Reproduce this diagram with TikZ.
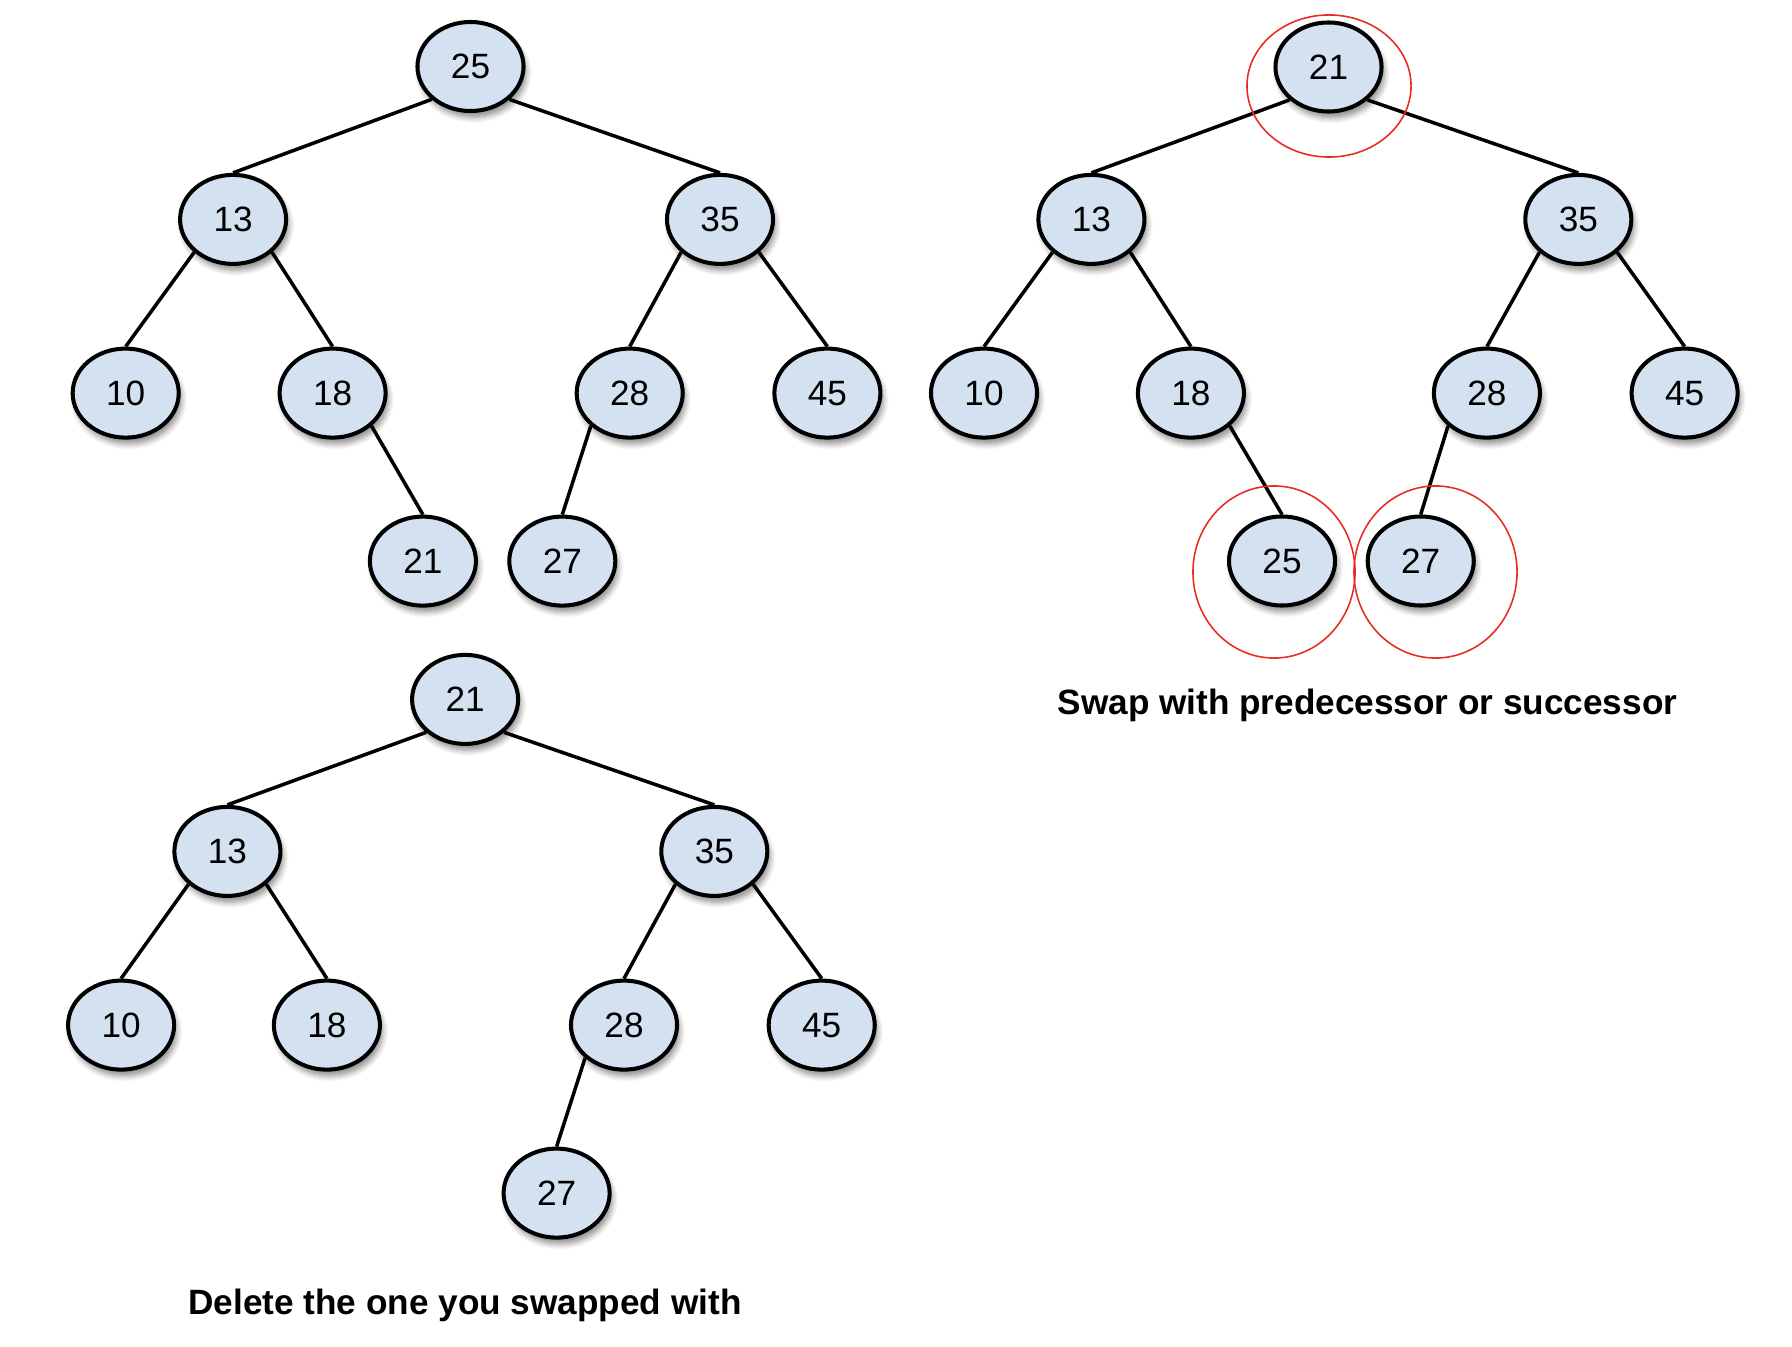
\documentclass[tikz,border=0pt]{standalone}
\usepackage{fontspec}
\setmainfont{Liberation Sans}
\usepackage{tikz}
\usetikzlibrary{shapes.geometric}
\usetikzlibrary{shadows}
\usetikzlibrary{shadows.blur}
\usetikzlibrary{positioning}
\definecolor{nodeblue}{RGB}{211,225,240}
\definecolor{ringred}{RGB}{232,44,36}
\tikzset{
    treenode/.style={ellipse, draw=black, line width=1.15pt, fill=nodeblue,
        minimum width=1.06cm, minimum height=0.89cm, inner sep=0pt,
        font=\fontsize{10}{12}\selectfont,
        blur shadow={shadow xshift=0.8pt, shadow yshift=-1.8pt,
            shadow blur radius=1.6pt, shadow blur steps=6, shadow opacity=45}},
    branch/.style={line width=1pt},
    ring/.style={ellipse, draw=ringred, line width=0.45pt, inner sep=0pt},
    caption/.style={anchor=base, font=\bfseries\fontsize{10}{12}\selectfont}
}
\begin{document}
\begin{tikzpicture}[x=0.01cm, y=-0.01cm]
        \useasboundingbox (0,0) rectangle (1792,1346);
        % before deletion
        \node[treenode] (a25) at (470.5,66.5) {25};
        \node[treenode] (a13) at (233.1,219.4) {13};
        \node[treenode] (a35) at (720.0,219.4) {35};
        \node[treenode] (a10) at (125.7,393.1) {10};
        \node[treenode] (a18) at (332.6,393.1) {18};
        \node[treenode] (a28) at (629.7,393.1) {28};
        \node[treenode] (a45) at (827.4,393.1) {45};
        \node[treenode] (a21) at (422.9,561.1) {21};
        \node[treenode] (a27) at (562.3,561.1) {27};
        % swapped
        \node[treenode] (b21) at (1328.5,67.0) {21};
        \node[treenode] (b13) at (1091.4,219.4) {13};
        \node[treenode] (b35) at (1578.3,219.4) {35};
        \node[treenode] (b10) at (984.0,393.1) {10};
        \node[treenode] (b18) at (1190.9,393.1) {18};
        \node[treenode] (b28) at (1486.9,393.1) {28};
        \node[treenode] (b45) at (1684.6,393.1) {45};
        \node[treenode] (b25) at (1282.0,561.0) {25};
        \node[treenode] (b27) at (1420.7,561.0) {27};
        % after deletion
        \node[treenode] (c21) at (465.1,699.4) {21};
        \node[treenode] (c13) at (227.4,851.4) {13};
        \node[treenode] (c35) at (714.3,851.4) {35};
        \node[treenode] (c10) at (121.1,1025.1) {10};
        \node[treenode] (c18) at (326.9,1025.1) {18};
        \node[treenode] (c28) at (624.0,1025.1) {28};
        \node[treenode] (c45) at (821.7,1025.1) {45};
        \node[treenode] (c27) at (556.6,1193.1) {27};
        \foreach \p/\a/\c in {a25/south west/a13, a25/south east/a35,
                a13/south west/a10, a13/south east/a18,
                a35/south west/a28, a35/south east/a45,
                a18/south east/a21, a28/south west/a27,
                b21/south west/b13, b21/south east/b35,
                b13/south west/b10, b13/south east/b18,
                b35/south west/b28, b35/south east/b45,
                b18/south east/b25, b28/south west/b27,
                c21/south west/c13, c21/south east/c35,
                c13/south west/c10, c13/south east/c18,
                c35/south west/c28, c35/south east/c45,
                c28/south west/c27} {
            \draw[branch] (\p.\a) -- (\c.north);
        }
        \node[ring, minimum width=1.64cm, minimum height=1.42cm] (ringroot) at (1329,86) {};
        \node[ring, minimum width=1.62cm, minimum height=1.72cm] (ringpred) at (1274,572) {};
        \node[ring, minimum width=1.63cm, minimum height=1.72cm] (ringsucc) at (1435.5,572) {};
        \node[caption] (swaptext) at (1367.5,714) {Swap with predecessor or successor};
        \node[caption] (deletetext) at (465,1314) {Delete the one you swapped with};
    \end{tikzpicture}
\end{document}
